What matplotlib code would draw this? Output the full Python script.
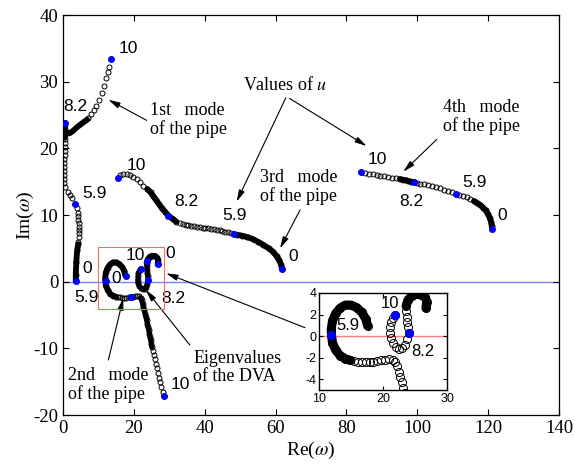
import numpy as np
import matplotlib
matplotlib.use("Agg")
import matplotlib.pyplot as plt

plt.rcParams["font.family"] = "Liberation Serif"
plt.rcParams["mathtext.fontset"] = "stix"
plt.rcParams["axes.unicode_minus"] = False

# ---- data (Re, Im) ----
# 1st mode of the pipe (u = 0 -> 10)
mode1_x = [3.6, 3.6, 3.75, 4.0, 4.3, 4.35, 4.4, 4.5, 4.5, 4.5, 4.4, 4.3, 4.2, 4.1, 3.9, 3.4,
           2.6, 2.0, 1.3, 0.6, 0.35, 0.35, 0.35, 0.35, 0.4, 0.4, 0.4, 0.45, 0.45, 0.5, 0.5, 0.5,
           7.1, 7.9, 8.7, 9.4, 10.2, 10.9, 11.6, 12.1, 12.6, 13.0, 13.5]
mode1_y = [0.1, 1.0, 3.0, 4.75, 5.6, 5.9, 6.7, 7.25, 7.75, 8.25, 8.75, 9.25, 9.8, 10.3, 11.0, 11.65,
           12.5, 13.0, 13.5, 14.2, 14.8, 15.4, 16.0, 16.6, 17.2, 17.8, 18.4, 19.0, 19.6, 20.2, 20.8, 21.4,
           24.6, 25.2, 25.8, 26.4, 27.2, 28.3, 29.4, 30.5, 31.5, 32.2, 33.4]
mode1_dense = [
    ([3.6, 3.6, 3.75, 4.0, 4.3], [0.1, 1.0, 3.0, 4.75, 5.6]),
    ([0.5, 0.55, 0.56, 0.7, 1.2, 2.0, 3.0, 4.0, 5.0, 6.0, 6.8],
     [21.6, 23.0, 23.8, 22.6, 22.2, 22.3, 22.7, 23.2, 23.6, 24.0, 24.3]),
]

# 2nd mode of the pipe
mode2_x = [17.6, 17.3, 16.7, 15.9, 15.0, 14.1, 13.3, 12.6, 12.1, 11.9, 11.95, 12.1, 12.6, 13.3, 14.1, 14.9,
           15.5, 16.1, 16.7, 17.3, 17.9, 18.5, 19.1, 19.7, 20.3, 20.9, 21.5, 21.9, 22.2, 22.45, 22.7,
           22.95, 23.2, 23.4, 23.6, 23.8, 24.0, 24.2, 24.4, 24.6, 24.75, 24.9, 25.05, 25.3, 25.6, 25.9,
           26.2, 26.5, 26.8, 27.1, 27.4, 27.7, 28.1, 28.5]
mode2_y = [0.95, 1.6, 2.2, 2.65, 2.88, 2.88, 2.6, 2.1, 1.4, 0.6, 0.1, -0.6, -1.3, -1.8, -2.1, -2.25,
           -2.32, -2.36, -2.38, -2.38, -2.38, -2.36, -2.34, -2.25, -2.18, -2.15, -2.2, -2.4, -2.8, -3.3, -3.8,
           -4.3, -4.8, -5.3, -5.8, -6.3, -6.8, -7.3, -7.8, -8.3, -8.8, -9.3, -9.8, -10.4, -11.0, -11.6,
           -12.3, -13.0, -13.7, -14.4, -15.1, -15.8, -16.5, -17.1]
mode2_dense = [
    ([17.6, 17.3, 16.7, 15.9, 15.0, 14.1, 13.3, 12.6, 12.1, 11.9, 11.95, 12.1, 12.6, 13.3, 14.1, 14.9],
     [0.95, 1.6, 2.2, 2.65, 2.88, 2.88, 2.6, 2.1, 1.4, 0.6, 0.1, -0.6, -1.3, -1.8, -2.1, -2.25]),
]

# eigenvalues of the DVA
dva_x = [26.7, 26.85, 26.6, 26.0, 25.2, 24.5, 23.9, 23.6, 23.6, 23.7, 23.8, 23.9, 24.0, 23.8, 23.5,
         23.0, 22.5, 22.0, 21.5, 21.2, 21.1, 21.15, 21.3, 21.6, 21.9]
dva_y = [2.6, 3.2, 3.6, 3.85, 3.9, 3.75, 3.35, 2.8, 2.3, 1.8, 1.3, 0.8, 0.26, -0.3, -0.8,
         -1.1, -1.15, -1.0, -0.65, -0.2, 0.3, 0.8, 1.3, 1.7, 1.95]
dva_dense = [
    ([26.7, 26.85, 26.6, 26.0, 25.2, 24.5, 23.9, 23.6], [2.6, 3.2, 3.6, 3.85, 3.9, 3.75, 3.35, 2.8]),
]

# stretches that merge into a solid band only at the scale of the main axes
main_only_dense = [
    ([21.9, 22.2, 22.7, 23.2, 23.6, 24.0, 24.4, 24.75, 25.05],
     [-2.4, -2.8, -3.8, -4.8, -5.8, -6.8, -7.8, -8.8, -9.8]),
    ([23.6, 23.8, 24.0, 23.8, 23.5, 23.0, 22.5, 22.0, 21.5, 21.2, 21.1, 21.3, 21.6, 21.9],
     [2.8, 1.3, 0.26, -0.3, -0.8, -1.1, -1.15, -1.0, -0.65, -0.2, 0.3, 1.3, 1.7, 1.95]),
]

# 3rd mode of the pipe
mode3_x = [61.8, 61.6, 61.0, 60.3, 59.3, 58.0, 56.5, 55.0, 53.5, 52.0, 50.5, 49.0, 48.3,
           47.4, 46.6, 45.8, 45.0, 44.2, 43.4, 42.6, 41.8, 41.0, 40.2, 39.4, 38.6, 37.8, 37.0,
           36.2, 35.4, 34.6, 33.8, 33.0, 32.0, 31.0, 29.7, 28.8, 27.9, 27.0, 26.2, 25.5, 24.7,
           23.8, 22.7, 21.7, 20.8, 19.8, 18.9, 18.0, 17.0, 16.2, 15.6]
mode3_y = [1.85, 2.5, 3.2, 3.8, 4.5, 5.0, 5.55, 6.0, 6.4, 6.7, 6.9, 7.05, 7.1,
           7.3, 7.4, 7.5, 7.6, 7.7, 7.8, 7.85, 7.9, 8.0, 8.05, 8.1, 8.15, 8.2, 8.3,
           8.35, 8.45, 8.55, 8.7, 8.8, 9.0, 9.4, 9.9, 10.5, 11.0, 11.7, 12.3, 12.8, 13.4,
           13.9, 14.4, 14.9, 15.4, 15.75, 16.0, 16.15, 16.15, 15.95, 15.6]
mode3_dense = [
    ([61.8, 61.6, 61.0, 60.3, 59.3, 58.0, 56.5, 55.0, 53.5, 52.0, 50.5, 49.0],
     [1.85, 2.5, 3.2, 3.8, 4.5, 5.0, 5.55, 6.0, 6.4, 6.7, 6.9, 7.05]),
    ([32.0, 31.0, 29.7, 28.8, 27.9, 27.0, 26.2, 25.5, 24.7, 23.8],
     [9.0, 9.4, 9.9, 10.5, 11.0, 11.7, 12.3, 12.8, 13.4, 13.9]),
]

# 4th mode of the pipe
mode4_x = [121.1, 121.0, 120.8, 120.4, 119.9, 119.3, 118.6, 117.8, 116.9, 116.0, 115.0, 114.0,
           113.0, 111.9, 110.8, 109.7, 108.6, 107.5, 106.4, 105.3, 104.2, 103.1, 102.0, 100.9,
           99.9, 99.1, 98.3, 97.5, 96.7, 95.9, 95.1, 94.0, 92.9, 91.8, 90.7, 89.6, 88.5, 87.4,
           86.3, 85.2, 84.0]
mode4_y = [7.85, 8.4, 9.0, 9.6, 10.2, 10.7, 11.1, 11.5, 11.8, 12.1, 12.4, 12.65,
           12.85, 13.0, 13.15, 13.4, 13.6, 13.8, 14.0, 14.15, 14.3, 14.45, 14.6, 14.7,
           14.85, 14.9, 15.0, 15.1, 15.2, 15.3, 15.4, 15.5, 15.6, 15.7, 15.8, 15.9, 16.0, 16.1,
           16.2, 16.35, 16.45]
mode4_dense = [
    ([121.1, 121.0, 120.8, 120.4, 119.9, 119.3, 118.6, 117.8, 116.9, 116.0],
     [7.85, 8.4, 9.0, 9.6, 10.2, 10.7, 11.1, 11.5, 11.8, 12.1]),
    ([99.1, 98.3, 97.5, 96.7, 95.9, 95.1], [14.9, 15.0, 15.1, 15.2, 15.3, 15.4]),
]

# points where u takes the marked values (blue dots)
blue_x = [3.6, 3.4, 0.56, 13.5, 17.8, 12.0, 19.1, 28.5, 26.8, 23.8, 24.0, 21.9,
          61.8, 48.3, 29.7, 15.6, 121.1, 110.8, 99.1, 84.0]
blue_y = [0.1, 11.65, 23.8, 33.4, 0.9, 0.1, -2.35, -17.1, 2.6, 3.15, 0.26, 1.95,
          1.85, 7.1, 9.9, 15.6, 7.85, 13.15, 14.9, 16.45]
inset_blue_x = [11.9, 21.9, 24.0]
inset_blue_y = [0.08, 1.99, 0.26]

# u labels
u_labels = ["10", "8.2", "5.9", "0", "5.9", "0", "10", "0", "8.2", "10",
            "10", "8.2", "5.9", "0", "10", "8.2", "5.9", "0"]
u_lab_x = [18.4, 3.6, 8.85, 6.7, 6.5, 14.9, 20.3, 30.2, 31.1, 33.0,
           20.6, 34.9, 48.5, 65.0, 88.7, 98.4, 116.0, 124.1]
u_lab_y = [35.0, 26.25, 13.25, 2.0, -2.4, 0.5, 3.9, 4.25, -2.5, -15.35,
           17.5, 12.0, 10.0, 3.75, 18.4, 12.0, 14.85, 9.9]
inset_labels = ["10", "5.9", "8.2"]
inset_lab_x = [21.1, 14.6, 26.2]
inset_lab_y = [3.04, 1.03, -1.45]

curves = [(mode1_x, mode1_y, mode1_dense), (mode2_x, mode2_y, mode2_dense),
          (dva_x, dva_y, dva_dense), (mode3_x, mode3_y, mode3_dense),
          (mode4_x, mode4_y, mode4_dense)]

fig = plt.figure(figsize=(5.75, 4.65), dpi=100)
ax = fig.add_axes([0.1096, 0.1075, 0.8626, 0.8602])


def draw(a, ms, lw_band):
    for cx, cy, dense in curves:
        for dx, dy in dense:
            a.plot(dx, dy, "-", color="k", lw=lw_band, solid_capstyle="round", zorder=2)
        a.plot(cx, cy, "o", mfc="none", mec="k", ms=ms, mew=0.7, zorder=3)


ax.axhline(0, color="#7f7fff", lw=1.0, zorder=1)
draw(ax, 3.6, 4.2)
for dx, dy in main_only_dense:
    ax.plot(dx, dy, "-", color="k", lw=3.6, solid_capstyle="round", zorder=2)
ax.plot(blue_x, blue_y, "o", color="#0000ff", ms=5, mec="none", zorder=4)
ax.add_patch(plt.Rectangle((10, -4.05), 18.5, 9.3, fill=False, ec="#ff6666", lw=0.8, zorder=5))

for t, x, y in zip(u_labels, u_lab_x, u_lab_y):
    ax.text(x, y, t, family="Liberation Sans", fontsize=12.5, ha="center", va="center")

ax.set_xlim(0, 140)
ax.set_ylim(-20, 40)
ax.set_xticks(np.arange(0, 141, 20))
ax.set_yticks(np.arange(-20, 41, 10))
ax.tick_params(direction="in", top=True, right=True, labelsize=13.5, length=4, width=0.8)
ax.set_xlabel(r"Re($\omega$)", fontsize=14, labelpad=2)
ax.set_ylabel(r"Im($\omega$)", fontsize=14, labelpad=-2)
for s in ax.spines.values():
    s.set_linewidth(0.9)

notes = [
    ("1st   mode\nof the pipe", 24.6, 24.25),
    ("3rd   mode\nof the pipe", 55.6, 14.2),
    ("4th   mode\nof the pipe", 107.2, 24.7),
    ("2nd   mode\nof the pipe", 1.5, -15.5),
    ("Eigenvalues\nof the DVA", 36.8, -12.9),
    (r"Values of $u$", 50.8, 29.5),
]
for t, x, y in notes:
    ax.text(x, y, t, fontsize=13, ha="left", va="center", linespacing=1.05)

arrows = [
    ((23.6, 24.2), (12.8, 27.3)),
    ((62.9, 27.6), (49.0, 12.0)),
    ((63.9, 27.5), (85.7, 20.35)),
    ((66.9, 10.75), (61.25, 5.0)),
    ((105.5, 21.35), (96.05, 16.5)),
    ((68.3, -6.9), (29.1, 1.26)),
    ((12.8, -11.75), (17.0, -2.5)),
    ((35.8, -9.5), (23.4, -1.25)),
]
for tail, head in arrows:
    ax.annotate("", xy=head, xytext=tail,
                arrowprops=dict(arrowstyle="-|>,head_width=0.18,head_length=0.7",
                                color="k", lw=0.8, shrinkA=0, shrinkB=0))

# inset
ins = fig.add_axes([0.5548, 0.1613, 0.2226, 0.2086])
ins.axhline(0, color="#ff7f7f", lw=1.0, zorder=1)
draw(ins, 5.8, 6.5)
ins.plot(inset_blue_x, inset_blue_y, "o", color="#0000ff", ms=6.5, mec="none", zorder=4)
for t, x, y in zip(inset_labels, inset_lab_x, inset_lab_y):
    ins.text(x, y, t, family="Liberation Sans", fontsize=12, ha="center", va="center")
ins.set_xlim(10, 30)
ins.set_ylim(-5, 4)
ins.set_xticks([10, 20, 30])
ins.set_yticks([-4, -2, 0, 2, 4])
ins.tick_params(direction="in", top=True, right=True, labelsize=9, length=3, width=0.8, pad=2)
for lab in ins.get_xticklabels() + ins.get_yticklabels():
    lab.set_family("Liberation Sans")
for s in ins.spines.values():
    s.set_linewidth(1.0)

fig.savefig("out.png", dpi=100)
